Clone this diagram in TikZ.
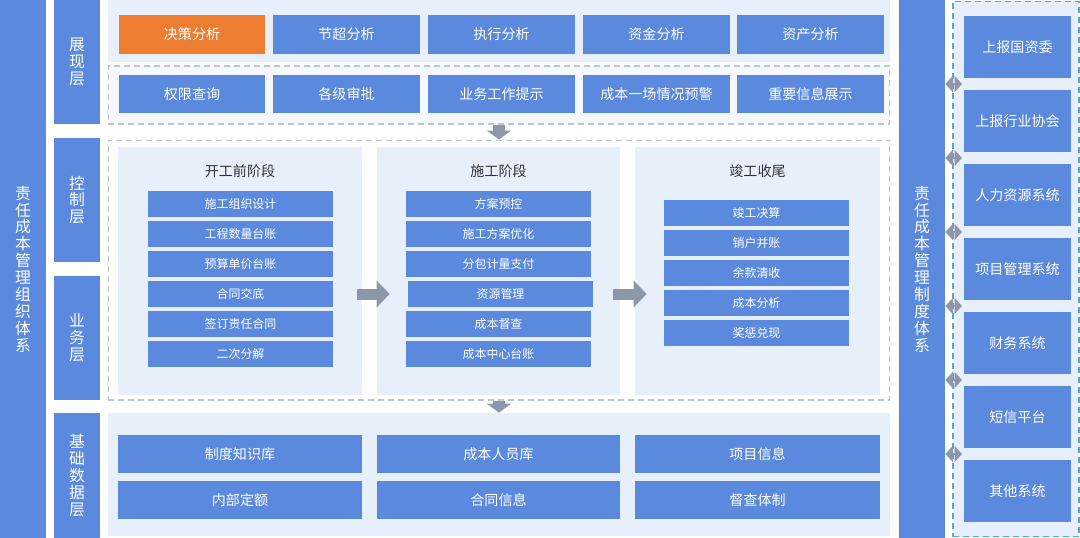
\documentclass[tikz,border=0pt]{standalone}
\usepackage{fontspec}
\newfontfamily\cjk{Noto Sans CJK SC}
\usetikzlibrary{arrows.meta}
\definecolor{boxBlue}{RGB}{90,137,222}
\definecolor{boxOrange}{RGB}{237,125,49}
\definecolor{panelBg}{RGB}{230,239,250}
\definecolor{dashBg}{RGB}{244,247,252}
\definecolor{dashGray}{RGB}{190,196,204}
\definecolor{dashTeal}{RGB}{88,170,192}
\definecolor{arrowGray}{RGB}{140,152,170}
\definecolor{titleGray}{RGB}{51,51,51}

\begin{document}
\begin{tikzpicture}
        [x=0.02cm, y=-0.02cm,
        bar/.style={fill=boxBlue, text=white, inner sep=0, align=center, minimum width=0.92cm, font=\cjk\fontsize{9}{9.6}\selectfont},
        box/.style={fill=boxBlue, text=white, inner sep=0, minimum width=2.94cm, minimum height=0.78cm, font=\cjk\fontsize{8}{9}\selectfont},
        boxOr/.style={box, fill=boxOrange},
        item/.style={fill=boxBlue, text=white, inner sep=0, minimum width=3.7cm, minimum height=0.52cm, font=\cjk\fontsize{6.8}{8}\selectfont},
        baseItem/.style={box, minimum height=0.76cm},
        sysItem/.style={box, minimum width=2.14cm, minimum height=1.24cm},
        panel/.style={fill=panelBg, inner sep=0},
        dashPanel/.style={draw=dashGray, dash pattern=on 0.12cm off 0.08cm, line width=0.6pt, inner sep=0},
        title/.style={text=titleGray, font=\cjk\fontsize{8}{9}\selectfont},
        downArrow/.style={draw=arrowGray, line width=0.24cm, -{Triangle[length=0.18cm, width=0.48cm]}},
        rightArrow/.style={draw=arrowGray, line width=0.22cm, -{Triangle[length=0.26cm, width=0.52cm]}},
        dblArrow/.style={draw=arrowGray, line width=0.05cm, {Triangle[length=0.15cm, width=0.32cm]}-{Triangle[length=0.15cm, width=0.32cm]}}]
        \useasboundingbox (0,0) rectangle (1080,538);

        % side bars
        \node[bar, minimum height=10.76cm] (org) at (23,269) {责\\任\\成\\本\\管\\理\\组\\织\\体\\系};
        \node[bar, minimum height=10.76cm] (sysbar) at (922,269) {责\\任\\成\\本\\管\\理\\制\\度\\体\\系};

        % layers
        \node[bar, minimum height=2.48cm] (showLay) at (77,62) {展\\现\\层};
        \node[bar, minimum height=2.48cm] (ctrlLay) at (77,200) {控\\制\\层};
        \node[bar, minimum height=2.48cm] (bizLay) at (77,338) {业\\务\\层};
        \node[bar, minimum height=2.5cm] (dataLay) at (77,475.5) {基\\础\\数\\据\\层};

        % presentation layer
        \node[panel, minimum width=15.64cm, minimum height=1.24cm] (topPanel) at (499,31) {};
        \node[dashPanel, fill=dashBg, minimum width=15.64cm, minimum height=1.16cm] (show) at (499,95) {};
        \node[boxOr] (juece) at (192,34.5) {决策分析};
        \node[box] (jiechao) at (346.5,34.5) {节超分析};
        \node[box] (zhixing) at (501.5,34.5) {执行分析};
        \node[box] (zijin) at (656.5,34.5) {资金分析};
        \node[box] (zichan) at (810.5,34.5) {资产分析};
        \node[box, minimum height=0.76cm] (quanxian) at (192,94) {权限查询};
        \node[box, minimum height=0.76cm] (shenpi) at (346.5,94) {各级审批};
        \node[box, minimum height=0.76cm] (tishi) at (501.5,94) {业务工作提示};
        \node[box, minimum height=0.76cm] (yujing) at (656.5,94) {成本一场情况预警};
        \node[box, minimum height=0.76cm] (zhanshi) at (810.5,94) {重要信息展示};

        % control / business layer
        \node[dashPanel, minimum width=15.64cm, minimum height=5.2cm] (ctrl) at (499,270) {};
        \node[panel, minimum width=4.88cm, minimum height=4.96cm] (pre) at (240,271) {};
        \node[panel, minimum width=4.86cm, minimum height=4.96cm] (build) at (498.5,271) {};
        \node[panel, minimum width=4.9cm, minimum height=4.96cm] (fin) at (757.5,271) {};
        \node[title] (preT) at (240,171) {开工前阶段};
        \node[title] (buildT) at (498.5,171) {施工阶段};
        \node[title] (finT) at (757.5,171) {竣工收尾};

        \node[item] (pre1) at (240.5,204) {施工组织设计};
        \node[item] (pre2) at (240.5,234) {工程数量台账};
        \node[item] (pre3) at (240.5,264) {预算单价台账};
        \node[item] (pre4) at (240.5,294) {合同交底};
        \node[item] (pre5) at (240.5,324) {签订责任合同};
        \node[item] (pre6) at (240.5,354) {二次分解};

        \node[item] (build1) at (498.5,204) {方案预控};
        \node[item] (build2) at (498.5,234) {施工方案优化};
        \node[item] (build3) at (498.5,264) {分包计量支付};
        \node[item] (build4) at (500.5,294) {资源管理};
        \node[item] (build5) at (498.5,324) {成本督查};
        \node[item] (build6) at (498.5,354) {成本中心台账};

        \node[item] (fin1) at (756.5,212.5) {竣工决算};
        \node[item] (fin2) at (756.5,242.5) {销户并账};
        \node[item] (fin3) at (756.5,272.5) {余款清收};
        \node[item] (fin4) at (756.5,302.5) {成本分析};
        \node[item] (fin5) at (756.5,332.5) {奖惩兑现};

        % data layer
        \node[panel, minimum width=15.64cm, minimum height=2.46cm] (base) at (499,474.5) {};
        \node[baseItem, minimum width=4.88cm] (base1) at (240,454) {制度知识库};
        \node[baseItem, minimum width=4.86cm] (base2) at (498.5,454) {成本人员库};
        \node[baseItem, minimum width=4.9cm] (base3) at (757.5,454) {项目信息};
        \node[baseItem, minimum width=4.88cm] (base4) at (240,500) {内部定额};
        \node[baseItem, minimum width=4.86cm] (base5) at (498.5,500) {合同信息};
        \node[baseItem, minimum width=4.9cm] (base6) at (757.5,500) {督查体制};

        % outside systems
        \node[dashPanel, draw=dashTeal, fill=panelBg, minimum width=2.52cm, minimum height=10.72cm] (sys) at (1016,269) {};
        \node[sysItem] (sys1) at (1017.5,47) {上报国资委};
        \node[sysItem] (sys2) at (1017.5,121) {上报行业协会};
        \node[sysItem] (sys3) at (1017.5,195) {人力资源系统};
        \node[sysItem] (sys4) at (1017.5,269) {项目管理系统};
        \node[sysItem] (sys5) at (1017.5,343) {财务系统};
        \node[sysItem] (sys6) at (1017.5,417) {短信平台};
        \node[sysItem] (sys7) at (1017.5,491) {其他系统};

        \coordinate (g1) at (962,84);
        \coordinate (g2) at (962,158);
        \coordinate (g3) at (962,232);
        \coordinate (g4) at (962,306);
        \coordinate (g5) at (962,380);
        \coordinate (g6) at (962,454);

        % arrows
        \draw[downArrow] (show.south) -- (ctrl.north);
        \draw[downArrow] (ctrl.south) -- (base.north);
        \draw[rightArrow, shorten <=0.48cm, shorten >=0.36cm] (pre4.east) -- (build4.west);
        \draw[rightArrow, shorten <=0.4cm, shorten >=0.34cm] (build4.east) -- (build4.east -| fin3.west);
        \draw[dblArrow] (sysbar.east |- g1) -- (g1);
        \draw[dblArrow] (sysbar.east |- g2) -- (g2);
        \draw[dblArrow] (sysbar.east |- g3) -- (g3);
        \draw[dblArrow] (sysbar.east |- g4) -- (g4);
        \draw[dblArrow] (sysbar.east |- g5) -- (g5);
        \draw[dblArrow] (sysbar.east |- g6) -- (g6);

    \end{tikzpicture}
\end{document}
